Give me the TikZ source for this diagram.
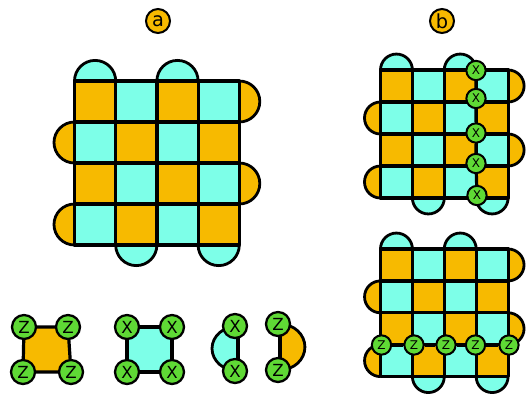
\documentclass[tikz,border=0pt]{standalone}
\usepackage{fontspec}
\setmainfont{DejaVu Sans}
\definecolor{org}{HTML}{F7BA00}
\definecolor{cya}{HTML}{7DFFE8}
\definecolor{grn}{HTML}{5FD935}
\tikzset{
  edge/.style={line width=2.4pt,draw=black,line join=round},
  bump/.style={line width=2.1pt,draw=black},
  qbig/.style={circle,draw=black,fill=grn,line width=1.7pt,minimum size=18pt,inner sep=0pt,font=\fontsize{12.5}{13}\selectfont},
  qsmall/.style={circle,draw=black,fill=grn,line width=1.5pt,minimum size=14.5pt,inner sep=0pt,font=\fontsize{9}{10}\selectfont},
  tag/.style={circle,draw=black,fill=org,line width=1.5pt,minimum size=18pt,inner sep=0pt,font=\fontsize{14.5}{15}\selectfont}
}
% #1,#2 origin  #3,#4 cell size in px
\newcommand{\patch}[4]{%
  \foreach \c in {0,2}{%
    \draw[bump,fill=cya] (#1+\c*#3,#2) arc[start angle=180,end angle=0,radius=#3*0.375pt];
    \draw[bump,fill=cya] (#1+\c*#3+#3,#2+4*#4) arc[start angle=180,end angle=360,radius=#3*0.375pt];
    \draw[bump,fill=org] (#1+4*#3,#2+\c*#4) arc[start angle=90,end angle=-90,radius=#4*0.375pt];
    \draw[bump,fill=org] (#1,#2+\c*#4+#4) arc[start angle=90,end angle=270,radius=#4*0.375pt];
  }%
  \foreach \i in {0,1,2,3}{\foreach \j in {0,1,2,3}{%
    \pgfmathtruncatemacro{\pty}{mod(\i+\j,2)}%
    \ifnum\pty=0 \def\cc{org}\else \def\cc{cya}\fi
    \draw[edge,fill=\cc] (#1+\i*#3,#2+\j*#4) rectangle ++(#3,#4);
  }}%
}
\begin{document}
\begin{tikzpicture}[x=0.75pt,y=-0.75pt]
\useasboundingbox (0,0) rectangle (526,394);
\node[tag] (la) at (158,21) {a};
\node[tag] (lb) at (442,21) {b};

\patch{74.5}{81}{41.2}{41}
\patch{380.5}{70}{31.9}{32}
\patch{380.5}{249}{31.9}{31.9}

% panel b : X chain
\node[qsmall] (b1) at (476,70.5) {X};
\node[qsmall] (b2) at (476,98.5) {X};
\node[qsmall] (b3) at (476,133) {X};
\node[qsmall] (b4) at (476,163.5) {X};
\node[qsmall] (b5) at (477,195.5) {X};
\draw[edge] (b1) -- (b2) -- (b3) -- (b4) -- (b5);
% panel c : Z chain
\node[qsmall] (c1) at (381.5,345) {Z};
\node[qsmall] (c2) at (414,345) {Z};
\node[qsmall] (c3) at (446,345) {Z};
\node[qsmall] (c4) at (475.5,345) {Z};
\node[qsmall] (c5) at (509,345) {Z};
\draw[edge] (c1) -- (c2) -- (c3) -- (c4) -- (c5);

% weight-four stabilisers
\coordinate (s1) at (24,327);
\coordinate (s2) at (68,327);
\coordinate (s3) at (71,372);
\coordinate (s4) at (23,372);
\draw[edge,fill=org] (s1) -- (s2) -- (s3) -- (s4) -- cycle;
\node[qbig] (z1) at (s1) {Z};
\node[qbig] (z2) at (s2) {Z};
\node[qbig] (z3) at (s3) {Z};
\node[qbig] (z4) at (s4) {Z};

\coordinate (t1) at (127,327);
\coordinate (t2) at (172,327);
\coordinate (t3) at (172,372);
\coordinate (t4) at (127,372);
\draw[edge,fill=cya] (t1) -- (t2) -- (t3) -- (t4) -- cycle;
\node[qbig] (x1) at (t1) {X};
\node[qbig] (x2) at (t2) {X};
\node[qbig] (x3) at (t3) {X};
\node[qbig] (x4) at (t4) {X};

% weight-two stabilisers
\coordinate (u1) at (238,326);
\coordinate (u2) at (238,371);
\draw[bump,fill=cya] (u1) arc[start angle=90,end angle=270,x radius=19.5pt,y radius=16.9pt];
\draw[edge] (u1) -- (u2);
\node[qbig] (x5) at (235,326) {X};
\node[qbig] (x6) at (235,371) {X};

\coordinate (v1) at (280,324);
\coordinate (v2) at (280,370);
\draw[bump,fill=org] (v1) arc[start angle=90,end angle=-90,x radius=18.7pt,y radius=17.25pt];
\draw[edge] (v1) -- (v2);
\node[qbig] (z5) at (278,324) {Z};
\node[qbig] (z6) at (278,370) {Z};
\end{tikzpicture}
\end{document}
